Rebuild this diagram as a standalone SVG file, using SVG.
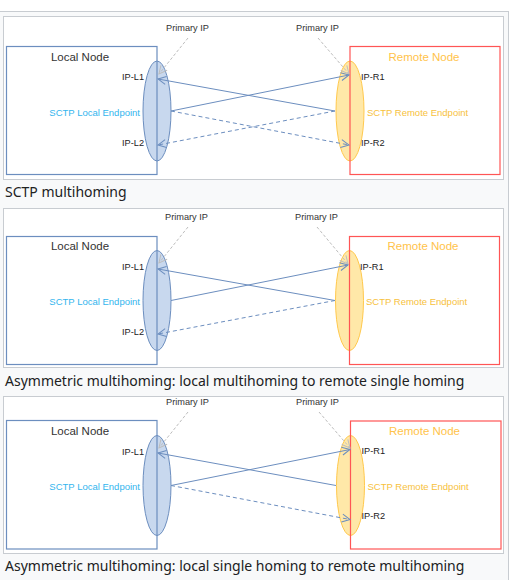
<svg xmlns="http://www.w3.org/2000/svg" width="513" height="580" viewBox="0 0 513 580">
<defs>
<style>
.t{font-family:"Liberation Sans",Arial,sans-serif}
.cap{font-family:"Noto Sans","Liberation Sans",sans-serif;font-size:14px;fill:#202122}
.panel{fill:#fff;stroke:#c8ccd1;stroke-width:1}
.nl{fill:none;stroke:#6c8ebf;stroke-width:1.2}
.nr{fill:none;stroke:#ff5555;stroke-width:1.2}
.el{fill:#c8d8ee;stroke:#6c8ebf;stroke-width:1}
.er{fill:#ffe8a8;stroke:#ffc94d;stroke-width:1}
.ttl{font-size:11.5px}
.tl{fill:#333}
.tr{fill:#ffc34a}
.lbl{font-size:9.2px;fill:#222}
.pip{font-size:9.2px;fill:#333}
.epl{font-size:9.5px;fill:#33b5ee}
.epr{font-size:9.5px;fill:#f7c13c}
.lk{fill:none;stroke:#6c8ebf;stroke-width:1;marker-end:url(#arr)}
.ds{stroke-dasharray:4 3}
.pr{fill:none;stroke:#bdbdbd;stroke-width:1;stroke-dasharray:3 2;marker-end:url(#arrg)}
</style>
<marker id="arr" markerUnits="userSpaceOnUse" markerWidth="10" markerHeight="10" viewBox="0 0 10 10" refX="9" refY="5" orient="auto">
<path d="M1,1 L9,5 L1,9" fill="none" stroke="#6c8ebf" stroke-width="1"/>
</marker>
<marker id="arrg" markerUnits="userSpaceOnUse" markerWidth="10" markerHeight="10" viewBox="0 0 10 10" refX="9" refY="5" orient="auto">
<path d="M1,1 L9,5 L1,9" fill="none" stroke="#bdbdbd" stroke-width="1"/>
</marker>
</defs>
<rect x="0" y="0" width="513" height="580" fill="#fff"/>
<rect x="-1" y="11.5" width="509.5" height="600" fill="#f8f9fa" stroke="#c8ccd1"/>

<!-- Panel 1 -->
<rect class="panel" x="3.5" y="16.5" width="500" height="163"/>
<g id="p1">
<g id="p1-local-endpoint"><ellipse class="el" cx="157" cy="111" rx="14" ry="50"/></g>
<g id="p1-local-node">
<rect class="nl" x="6.5" y="46.5" width="150.5" height="128"/>
<text class="t ttl tl" x="80" y="61" text-anchor="middle">Local Node</text>
<text class="t epl" x="140" y="116" text-anchor="end">SCTP Local Endpoint</text>
</g>
<g id="p1-ip-l1"><text class="t lbl" x="144" y="80" text-anchor="end">IP-L1</text></g>
<g id="p1-ip-l2"><text class="t lbl" x="144" y="145.5" text-anchor="end">IP-L2</text></g>
<g id="p1-remote-endpoint"><ellipse class="er" cx="350" cy="111" rx="14" ry="50"/></g>
<g id="p1-remote-node">
<rect class="nr" x="350" y="46.5" width="150" height="128"/>
<text class="t ttl tr" x="424" y="61" text-anchor="middle">Remote Node</text>
<text class="t epr" x="367" y="116">SCTP Remote Endpoint</text>
</g>
<g id="p1-ip-r1"><text class="t lbl" x="361" y="80">IP-R1</text></g>
<g id="p1-ip-r2"><text class="t lbl" x="361" y="145.5">IP-R2</text></g>
<g id="p1-primary-l"><text class="t pip" x="166" y="31">Primary IP</text></g>
<g id="p1-primary-r"><text class="t pip" x="296" y="31">Primary IP</text></g>
<g id="p1-connectors">
<line class="pr" x1="188" y1="38" x2="159" y2="74"/>
<line class="pr" x1="318" y1="38" x2="349" y2="74"/>
<line class="lk" x1="335" y1="111" x2="158" y2="79"/>
<line class="lk" x1="171" y1="111" x2="349" y2="75"/>
<line class="lk ds" x1="171" y1="111" x2="349" y2="145"/>
<line class="lk ds" x1="335" y1="111" x2="158" y2="145"/>
</g>
</g>
<text class="cap" x="5" y="197">SCTP multihoming</text>

<!-- Panel 2 -->
<rect class="panel" x="3.5" y="208.5" width="500" height="159"/>
<g id="p2" transform="translate(0,190)">
<g id="p2-local-endpoint"><ellipse class="el" cx="157" cy="110.5" rx="14" ry="50"/></g>
<g id="p2-local-node">
<rect class="nl" x="6.5" y="46.5" width="150.5" height="128"/>
<text class="t ttl tl" x="80" y="60" text-anchor="middle">Local Node</text>
<text class="t epl" x="140" y="115" text-anchor="end">SCTP Local Endpoint</text>
</g>
<g id="p2-ip-l1"><text class="t lbl" x="144" y="80" text-anchor="end">IP-L1</text></g>
<g id="p2-ip-l2"><text class="t lbl" x="144" y="144.5" text-anchor="end">IP-L2</text></g>
<g id="p2-remote-endpoint"><ellipse class="er" cx="349.5" cy="110.5" rx="14" ry="50"/></g>
<g id="p2-remote-node">
<rect class="nr" x="349.5" y="46.5" width="150" height="128"/>
<text class="t ttl tr" x="423" y="60" text-anchor="middle">Remote Node</text>
<text class="t epr" x="366" y="115">SCTP Remote Endpoint</text>
</g>
<g id="p2-ip-r1"><text class="t lbl" x="360" y="80">IP-R1</text></g>
<g id="p2-primary-l"><text class="t pip" x="165" y="30">Primary IP</text></g>
<g id="p2-primary-r"><text class="t pip" x="295" y="30">Primary IP</text></g>
<g id="p2-connectors">
<line class="pr" x1="188" y1="37" x2="159" y2="73"/>
<line class="pr" x1="317" y1="37" x2="348" y2="74"/>
<line class="lk" x1="335" y1="110.5" x2="158" y2="79"/>
<line class="lk" x1="171" y1="110.5" x2="348" y2="75"/>
<line class="lk ds" x1="335" y1="110.5" x2="158" y2="144"/>
</g>
</g>
<text class="cap" x="5" y="385.5">Asymmetric multihoming: local multihoming to remote single homing</text>

<!-- Panel 3 -->
<rect class="panel" x="3.5" y="396.5" width="500" height="157"/>
<g id="p3" transform="translate(0,374)">
<g id="p3-local-endpoint"><ellipse class="el" cx="157" cy="111.5" rx="14" ry="50"/></g>
<g id="p3-local-node">
<rect class="nl" x="6.5" y="46.5" width="150.5" height="128.5"/>
<text class="t ttl tl" x="80" y="60.5" text-anchor="middle">Local Node</text>
<text class="t epl" x="140" y="116" text-anchor="end">SCTP Local Endpoint</text>
</g>
<g id="p3-ip-l1"><text class="t lbl" x="144" y="80.5" text-anchor="end">IP-L1</text></g>
<g id="p3-remote-endpoint"><ellipse class="er" cx="350.5" cy="111.5" rx="14" ry="50"/></g>
<g id="p3-remote-node">
<rect class="nr" x="350.5" y="47" width="150.5" height="128"/>
<text class="t ttl tr" x="424.5" y="60.5" text-anchor="middle">Remote Node</text>
<text class="t epr" x="367.5" y="116">SCTP Remote Endpoint</text>
</g>
<g id="p3-ip-r1"><text class="t lbl" x="361.5" y="80">IP-R1</text></g>
<g id="p3-ip-r2"><text class="t lbl" x="361.5" y="145">IP-R2</text></g>
<g id="p3-primary-l"><text class="t pip" x="166" y="30.5">Primary IP</text></g>
<g id="p3-primary-r"><text class="t pip" x="296" y="30.5">Primary IP</text></g>
<g id="p3-connectors">
<line class="pr" x1="188" y1="38" x2="159" y2="74"/>
<line class="pr" x1="319" y1="38" x2="350" y2="74"/>
<line class="lk" x1="336" y1="111.5" x2="158" y2="79"/>
<line class="lk" x1="171" y1="111.5" x2="350" y2="75.5"/>
<line class="lk ds" x1="171" y1="111.5" x2="350" y2="145.5"/>
</g>
</g>
<text class="cap" x="5" y="571">Asymmetric multihoming: local single homing to remote multihoming</text>
</svg>
